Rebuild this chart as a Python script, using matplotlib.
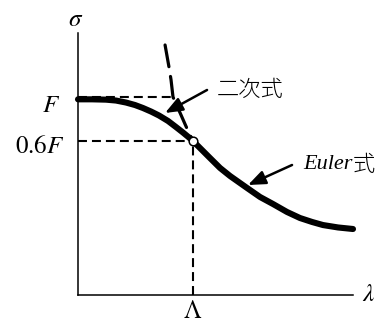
import matplotlib.pyplot as plt

plt.rcParams['mathtext.fontset'] = 'stix'

# column strength curve, sigma in units of F, lambda in units of Lambda
lam_quad = [0.0, 0.122, 0.243, 0.330, 0.417, 0.496, 0.565, 0.635, 0.704, 0.783,
            0.852, 0.913, 0.965, 1.0]
sig_quad = [0.979, 0.979, 0.976, 0.968, 0.950, 0.927, 0.900, 0.868, 0.832, 0.782,
            0.727, 0.677, 0.632, 0.6]

lam_euler = [1.0, 1.061, 1.148, 1.235, 1.322, 1.470, 1.583, 1.696, 1.817, 1.930,
             2.035, 2.130, 2.261, 2.391]
sig_euler = [0.6, 0.536, 0.445, 0.355, 0.282, 0.173, 0.091, 0.027, -0.045, -0.100,
             -0.136, -0.164, -0.186, -0.200]

# Euler curve carried on above the transition point
lam_euler_up = [0.757, 0.774, 0.791, 0.809, 0.826, 0.861, 0.896, 0.930, 0.965, 1.0]
sig_euler_up = [1.473, 1.373, 1.273, 1.155, 1.0, 0.918, 0.836, 0.755, 0.673, 0.6]

F = 1.0
ratio = 0.6
Lam = 1.0
F_dash_end = 0.843

fig = plt.figure(figsize=(3.83, 3.22), dpi=100)
ax = fig.add_axes([78 / 383, 27 / 322, 275 / 383, 262 / 322])
ax.set_xlim(0, 2.391)
ax.set_ylim(-0.8, 1.582)

for s in ['top', 'right']:
    ax.spines[s].set_visible(False)
for s in ['left', 'bottom']:
    ax.spines[s].set_linewidth(1.1)
ax.set_xticks([])
ax.set_yticks([])

thin = (0, (4.3, 2.4))
ax.plot([0, F_dash_end], [F, F], color='k', lw=1.5, linestyle=thin)
ax.plot([0, Lam], [ratio * F, ratio * F], color='k', lw=1.5, linestyle=thin)
ax.plot([Lam, Lam], [-0.8, ratio * F], color='k', lw=1.5, linestyle=thin, clip_on=False)

ax.plot(lam_euler_up, sig_euler_up, color='k', lw=2.3, linestyle=(0, (6.9, 3.1)),
        dash_capstyle='round', clip_on=False)

ax.plot(lam_quad + lam_euler[1:], sig_quad + sig_euler[1:], color='k', lw=4.4,
        solid_capstyle='round', solid_joinstyle='round', clip_on=False)
ax.plot([Lam], [ratio * F], 'o', ms=6.2, mfc='white', mec='k', mew=1.1, zorder=5)

# axis value labels
ax.annotate(r'$F$', xy=(0, F), xytext=(-19.5, -5.8), textcoords='offset points',
            fontsize=18, ha='center', va='center')
ax.annotate(r'$0.6F$', xy=(0, ratio * F), xytext=(-27.5, -3.6),
            textcoords='offset points', fontsize=18, ha='center', va='center')
ax.annotate(r'$\Lambda$', xy=(Lam, -0.8), xytext=(0, -11.5),
            textcoords='offset points', fontsize=18, ha='center', va='center',
            annotation_clip=False)

ax.text(-0.007, 1.053, r'$\sigma$', transform=ax.transAxes, fontsize=18,
        ha='center', va='center')
ax.text(1.055, 0.004, r'$\lambda$', transform=ax.transAxes, fontsize=18,
        ha='center', va='center')

arrow = dict(arrowstyle='-|>,head_length=0.75,head_width=0.3', color='k', lw=1.8,
             mutation_scale=14, shrinkA=0, shrinkB=0)
ax.annotate('', xy=(0.757, 0.855), xytext=(1.122, 1.064), arrowprops=arrow)
ax.annotate('', xy=(1.478, 0.2), xytext=(1.861, 0.382), arrowprops=arrow)

cjk = ['Noto Sans CJK JP', 'DejaVu Sans']
ax.text(1.209, 1.064, '二次式', fontsize=16, family=cjk, fontweight='light',
        ha='left', va='center')
t = ax.text(1.957, 0.382, 'Euler', fontsize=16, family='Liberation Serif',
            style='italic', ha='left', va='center')
ax.annotate('式', xy=(1, 0.5), xycoords=t, fontsize=16, family=cjk,
            fontweight='light', ha='left', va='center')

fig.savefig('out.png', dpi=100)
